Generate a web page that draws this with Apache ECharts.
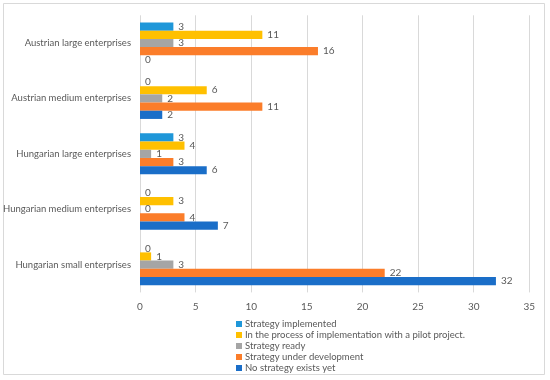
<!DOCTYPE html>
<html>
<head>
<meta charset="utf-8">
<script src="https://cdn.jsdelivr.net/npm/echarts@6/dist/echarts.min.js"></script>
<style>
html,body{margin:0;padding:0;background:#fff;}
#c{width:550px;height:380px;}
</style>
</head>
<body>
<div id="c"></div>
<script>
// Categories from bottom to top
var categories = ['Hungarian small enterprises','Hungarian medium enterprises','Hungarian large enterprises','Austrian medium enterprises','Austrian large enterprises'];
var noStrategy = [32, 7, 6, 2, 0];
var underDevelopment = [22, 4, 3, 11, 16];
var strategyReady = [3, 0, 1, 2, 3];
var pilotProject = [1, 3, 4, 6, 11];
var implemented = [0, 0, 3, 0, 3];
var seriesNames = ['Strategy implemented','In the process of implementation with a pilot project.','Strategy ready','Strategy under development','No strategy exists yet'];
var xTicks = [0, 5, 10, 15, 20, 25, 30, 35];

var FONT = 'Lato';
var TXT = '#595959';
function mk(name, data, color){
  return {
    name: name, type: 'bar', data: data,
    barGap: '0%', barCategoryGap: '26%',
    itemStyle: {color: color},
    label: {show: true, position: 'right', distance: 5, color: TXT, fontFamily: FONT, fontSize: 10},
    emphasis: {disabled: true}
  };
}
var chart = echarts.init(document.getElementById('c'));
chart.setOption({
  animation: false,
  backgroundColor: '#fff',
  graphic: [{type:'rect', shape:{x:3.5,y:3.5,width:541,height:371}, style:{fill:'none', stroke:'#d9d9d9', lineWidth:1}, silent:true}],
  grid: {left: 140, right: 20.7, top: 15.3, bottom: 87.6},
  xAxis: {
    type: 'value', min: xTicks[0], max: xTicks[xTicks.length-1], interval: 5,
    axisLine: {show: false}, axisTick: {show: false},
    splitLine: {lineStyle: {color: '#d9d9d9', width: 1}},
    axisLabel: {color: TXT, fontFamily: FONT, fontSize: 10, margin: 9}
  },
  yAxis: {
    type: 'category', data: categories,
    axisLine: {show: false}, axisTick: {show: false},
    axisLabel: {color: TXT, fontFamily: FONT, fontSize: 9.5, margin: 9}
  },
  legend: {
    orient: 'vertical', left: 231, top: 313.5,
    itemWidth: 6, itemHeight: 6, itemGap: 0, icon: 'rect',
    data: seriesNames,
    textStyle: {color: TXT, fontFamily: FONT, fontSize: 9.5, lineHeight: 11, padding: [0,0,0,-2]}
  },
  series: [
    mk(seriesNames[0], implemented, '#1f97d9'),
    mk(seriesNames[1], pilotProject, '#ffc000'),
    mk(seriesNames[2], strategyReady, '#a5a5a5'),
    mk(seriesNames[3], underDevelopment, '#fb7d2a'),
    mk(seriesNames[4], noStrategy, '#1a6ec8')
  ]
});
</script>
</body>
</html>
